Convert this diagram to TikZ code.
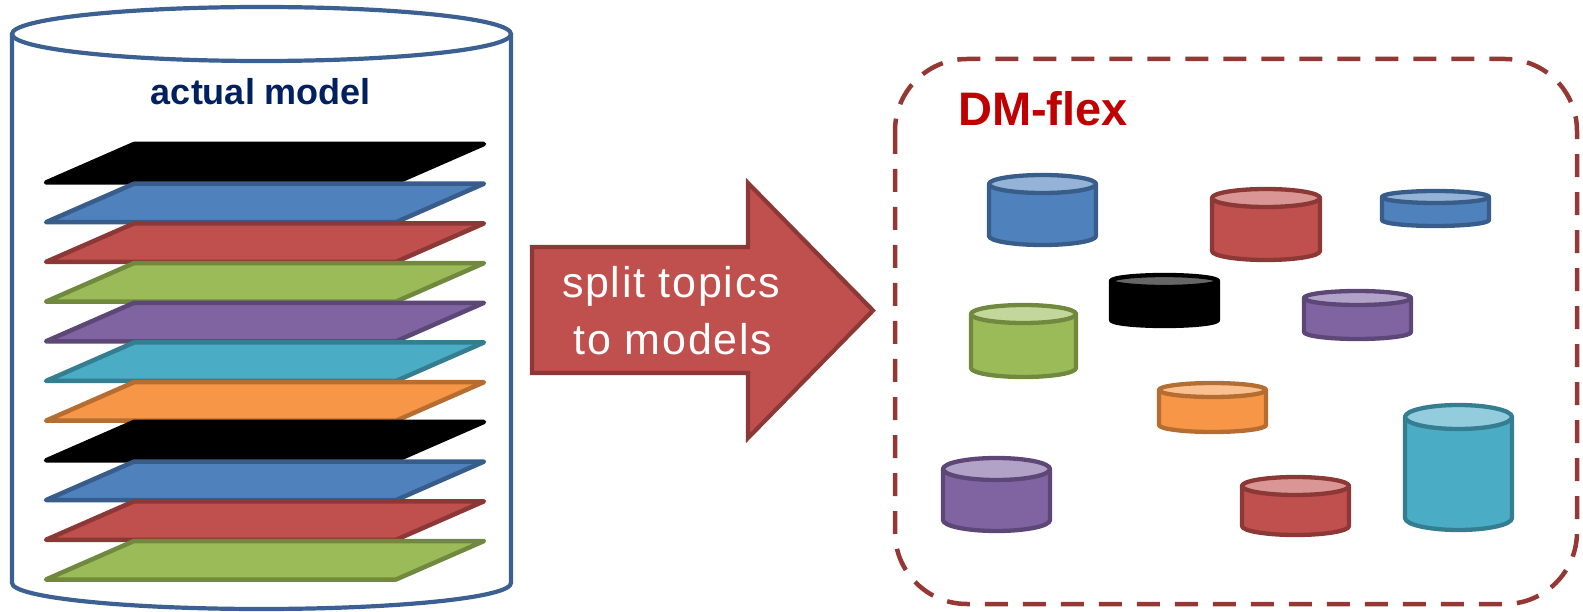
\documentclass[tikz,border=0pt]{standalone}
\usepackage{fontspec}
\setmainfont{Liberation Sans}
\definecolor{cblue}{HTML}{4F81BD}\definecolor{cblueD}{HTML}{385D8A}\definecolor{cblueL}{HTML}{95B3D7}
\definecolor{cred}{HTML}{C0504D}\definecolor{credD}{HTML}{8C3836}\definecolor{credL}{HTML}{D99694}
\definecolor{cgreen}{HTML}{9BBB59}\definecolor{cgreenD}{HTML}{71893F}\definecolor{cgreenL}{HTML}{C3D69B}
\definecolor{cpurp}{HTML}{8064A2}\definecolor{cpurpD}{HTML}{5C4776}\definecolor{cpurpL}{HTML}{B3A2C7}
\definecolor{ccyan}{HTML}{4BACC6}\definecolor{ccyanD}{HTML}{357D91}\definecolor{ccyanL}{HTML}{93CDDD}
\definecolor{corange}{HTML}{F79646}\definecolor{corangeD}{HTML}{B66D31}\definecolor{corangeL}{HTML}{FAC090}
\definecolor{cblack}{HTML}{000000}\definecolor{cblackD}{HTML}{000000}\definecolor{cblackL}{HTML}{666666}
\definecolor{bigline}{RGB}{60,96,145}
\definecolor{navy}{HTML}{002060}
\definecolor{dmred}{HTML}{C00000}
\definecolor{dashred}{HTML}{953735}
% #1 xl, #2 xr, #3 yt, #4 yb, #5 ry, #6 colour
\newcommand\dbcyl[6]{%
  \draw[cylline, fill=#6, draw=#6D] ({#1+2},{#3+2+#5}) -- ({#1+2},{#4-2-#5})
     arc[start angle=180, end angle=0, x radius={(#2-#1-4)/2}, y radius=#5]
     -- ({#2-2},{#3+2+#5}) -- cycle;
  \draw[cylline, fill=#6L, draw=#6D] ({(#1+#2)/2},{#3+2+#5}) ellipse [x radius={(#2-#1-4)/2}, y radius=#5];
}
% layer: #1 top y, #2 colour
\newcommand\layer[2]{%
  \draw[layerline, fill=#2, draw=#2D] (46,{#1+38.5}) -- (396,{#1+38.5}) -- (484,#1) -- (134,#1) -- cycle;
}
\begin{document}
\begin{tikzpicture}[x=1pt, y=-1pt,
  cylline/.style={line width=4.3pt, line join=round},
  layerline/.style={line width=4.5pt, line join=round, line cap=round},
  bigcyl/.style={line width=4.2pt, draw=bigline, fill=white},
  arrowshape/.style={line width=4.2pt, draw=credD, fill=cred, line join=miter},
  arrowtext/.style={text=white, font=\fontsize{43}{50}\selectfont\addfontfeature{LetterSpace=4}, inner sep=0pt, anchor=base},
  frame/.style={line width=4.5pt, draw=dashred, dash pattern=on 23pt off 15pt, rounded corners=72pt}]
\useasboundingbox (0,0) rectangle (1583,612);
% big cylinder
\draw[bigcyl] (12,34) -- (12,583) arc[start angle=180, end angle=0, x radius=249.5, y radius=26] -- (511,34);
\draw[bigcyl] (261.5,34) ellipse [x radius=249.5, y radius=27];
\node[text=navy, font=\bfseries\fontsize{36}{40}\selectfont, inner sep=0pt, anchor=base] (am) at (261,105) {actual model};
% layers
\layer{144}{cblack}
\layer{183.7}{cblue}
\layer{223.4}{cred}
\layer{263.1}{cgreen}
\layer{302.8}{cpurp}
\layer{342.5}{ccyan}
\layer{382.2}{corange}
\layer{421.9}{cblack}
\layer{461.6}{cblue}
\layer{501.3}{cred}
\layer{541}{cgreen}
% arrow
\draw[arrowshape] (532,247) -- (748,247) -- (748,183) -- (873,310.5) -- (748,438) -- (748,373) -- (532,373) -- cycle;
\node[arrowtext] (t1) at (671,298) {split topics};
\node[arrowtext] (t2) at (673,355) {to models};
% DM-flex frame
\draw[frame] (895,59) rectangle (1577,604);
\node[text=dmred, font=\bfseries\fontsize{47}{52}\selectfont, inner sep=0pt, anchor=base west] (dm) at (958,126) {DM-flex};
% cylinders
\dbcyl{987}{1098}{173}{247}{9}{cblue}
\dbcyl{1210}{1322}{187}{262}{9}{cred}
\dbcyl{1380}{1491}{189}{228}{6}{cblue}
\dbcyl{1109}{1220}{273}{328}{6}{cblack}
\dbcyl{1302}{1413}{289}{341}{7}{cpurp}
\dbcyl{969}{1078}{303}{379}{9}{cgreen}
\dbcyl{1157}{1268}{381}{434}{7}{corange}
\dbcyl{1403}{1514}{403}{532}{12}{ccyan}
\dbcyl{941}{1052}{456}{533}{11}{cpurp}
\dbcyl{1240}{1351}{475}{537}{9}{cred}
\end{tikzpicture}
\end{document}
